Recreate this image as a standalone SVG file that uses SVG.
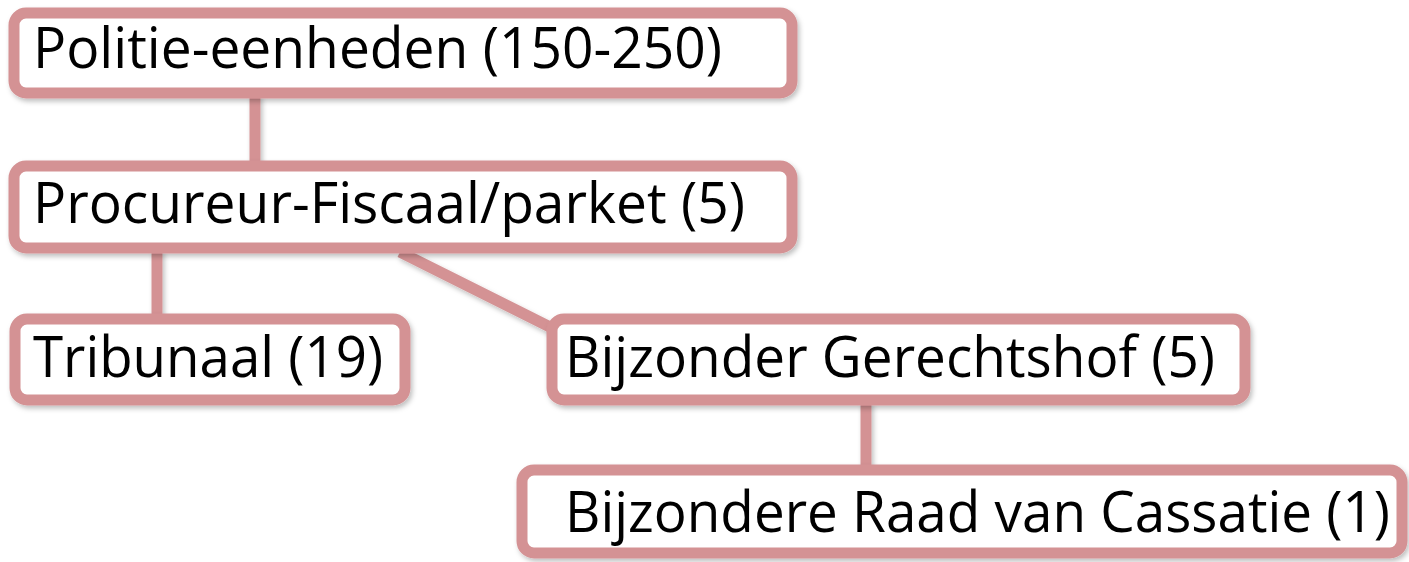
<svg xmlns="http://www.w3.org/2000/svg" width="1409" height="562" viewBox="0 0 1409 562">
<defs>
<filter id="sh" x="-5%" y="-10%" width="110%" height="130%">
<feDropShadow dx="2" dy="3" stdDeviation="2.5" flood-color="#000" flood-opacity="0.25"/>
</filter>
</defs>
<style>
.box{fill:#fff;stroke:#d49294;stroke-width:11;}
.con{stroke:#d49294;stroke-width:11;fill:none;}
.t{font-family:"Open Sans","Liberation Sans",sans-serif;font-size:56px;fill:#000;}
</style>
<rect width="1409" height="562" fill="#fff"/>
<g id="connectors" filter="url(#sh)">
<line class="con" x1="255" y1="95" x2="255" y2="165"/>
<line class="con" x1="157" y1="250" x2="157" y2="318"/>
<line class="con" x1="400" y1="252" x2="552" y2="328"/>
<line class="con" x1="866" y1="402" x2="866" y2="470"/>
</g>
<g id="n1" filter="url(#sh)">
<rect class="box" x="14" y="13" width="778" height="80" rx="12"/>
<text class="t" x="33" y="68" textLength="689" lengthAdjust="spacingAndGlyphs">Politie-eenheden (150-250)</text>
</g>
<g id="n2" filter="url(#sh)">
<rect class="box" x="14" y="166" width="778" height="82" rx="12"/>
<text class="t" x="33" y="223" textLength="712" lengthAdjust="spacingAndGlyphs">Procureur-Fiscaal/parket (5)</text>
</g>
<g id="n3" filter="url(#sh)">
<rect class="box" x="15" y="319" width="390" height="81" rx="12"/>
<text class="t" x="33" y="377" textLength="350" lengthAdjust="spacingAndGlyphs">Tribunaal (19)</text>
</g>
<g id="n4" filter="url(#sh)">
<rect class="box" x="552" y="319" width="693" height="81" rx="12"/>
<text class="t" x="565" y="377" textLength="650" lengthAdjust="spacingAndGlyphs">Bijzonder Gerechtshof (5)</text>
</g>
<g id="n5" filter="url(#sh)">
<rect class="box" x="522" y="470" width="880" height="83" rx="12"/>
<text class="t" x="565" y="532" textLength="825" lengthAdjust="spacingAndGlyphs">Bijzondere Raad van Cassatie (1)</text>
</g>
</svg>
